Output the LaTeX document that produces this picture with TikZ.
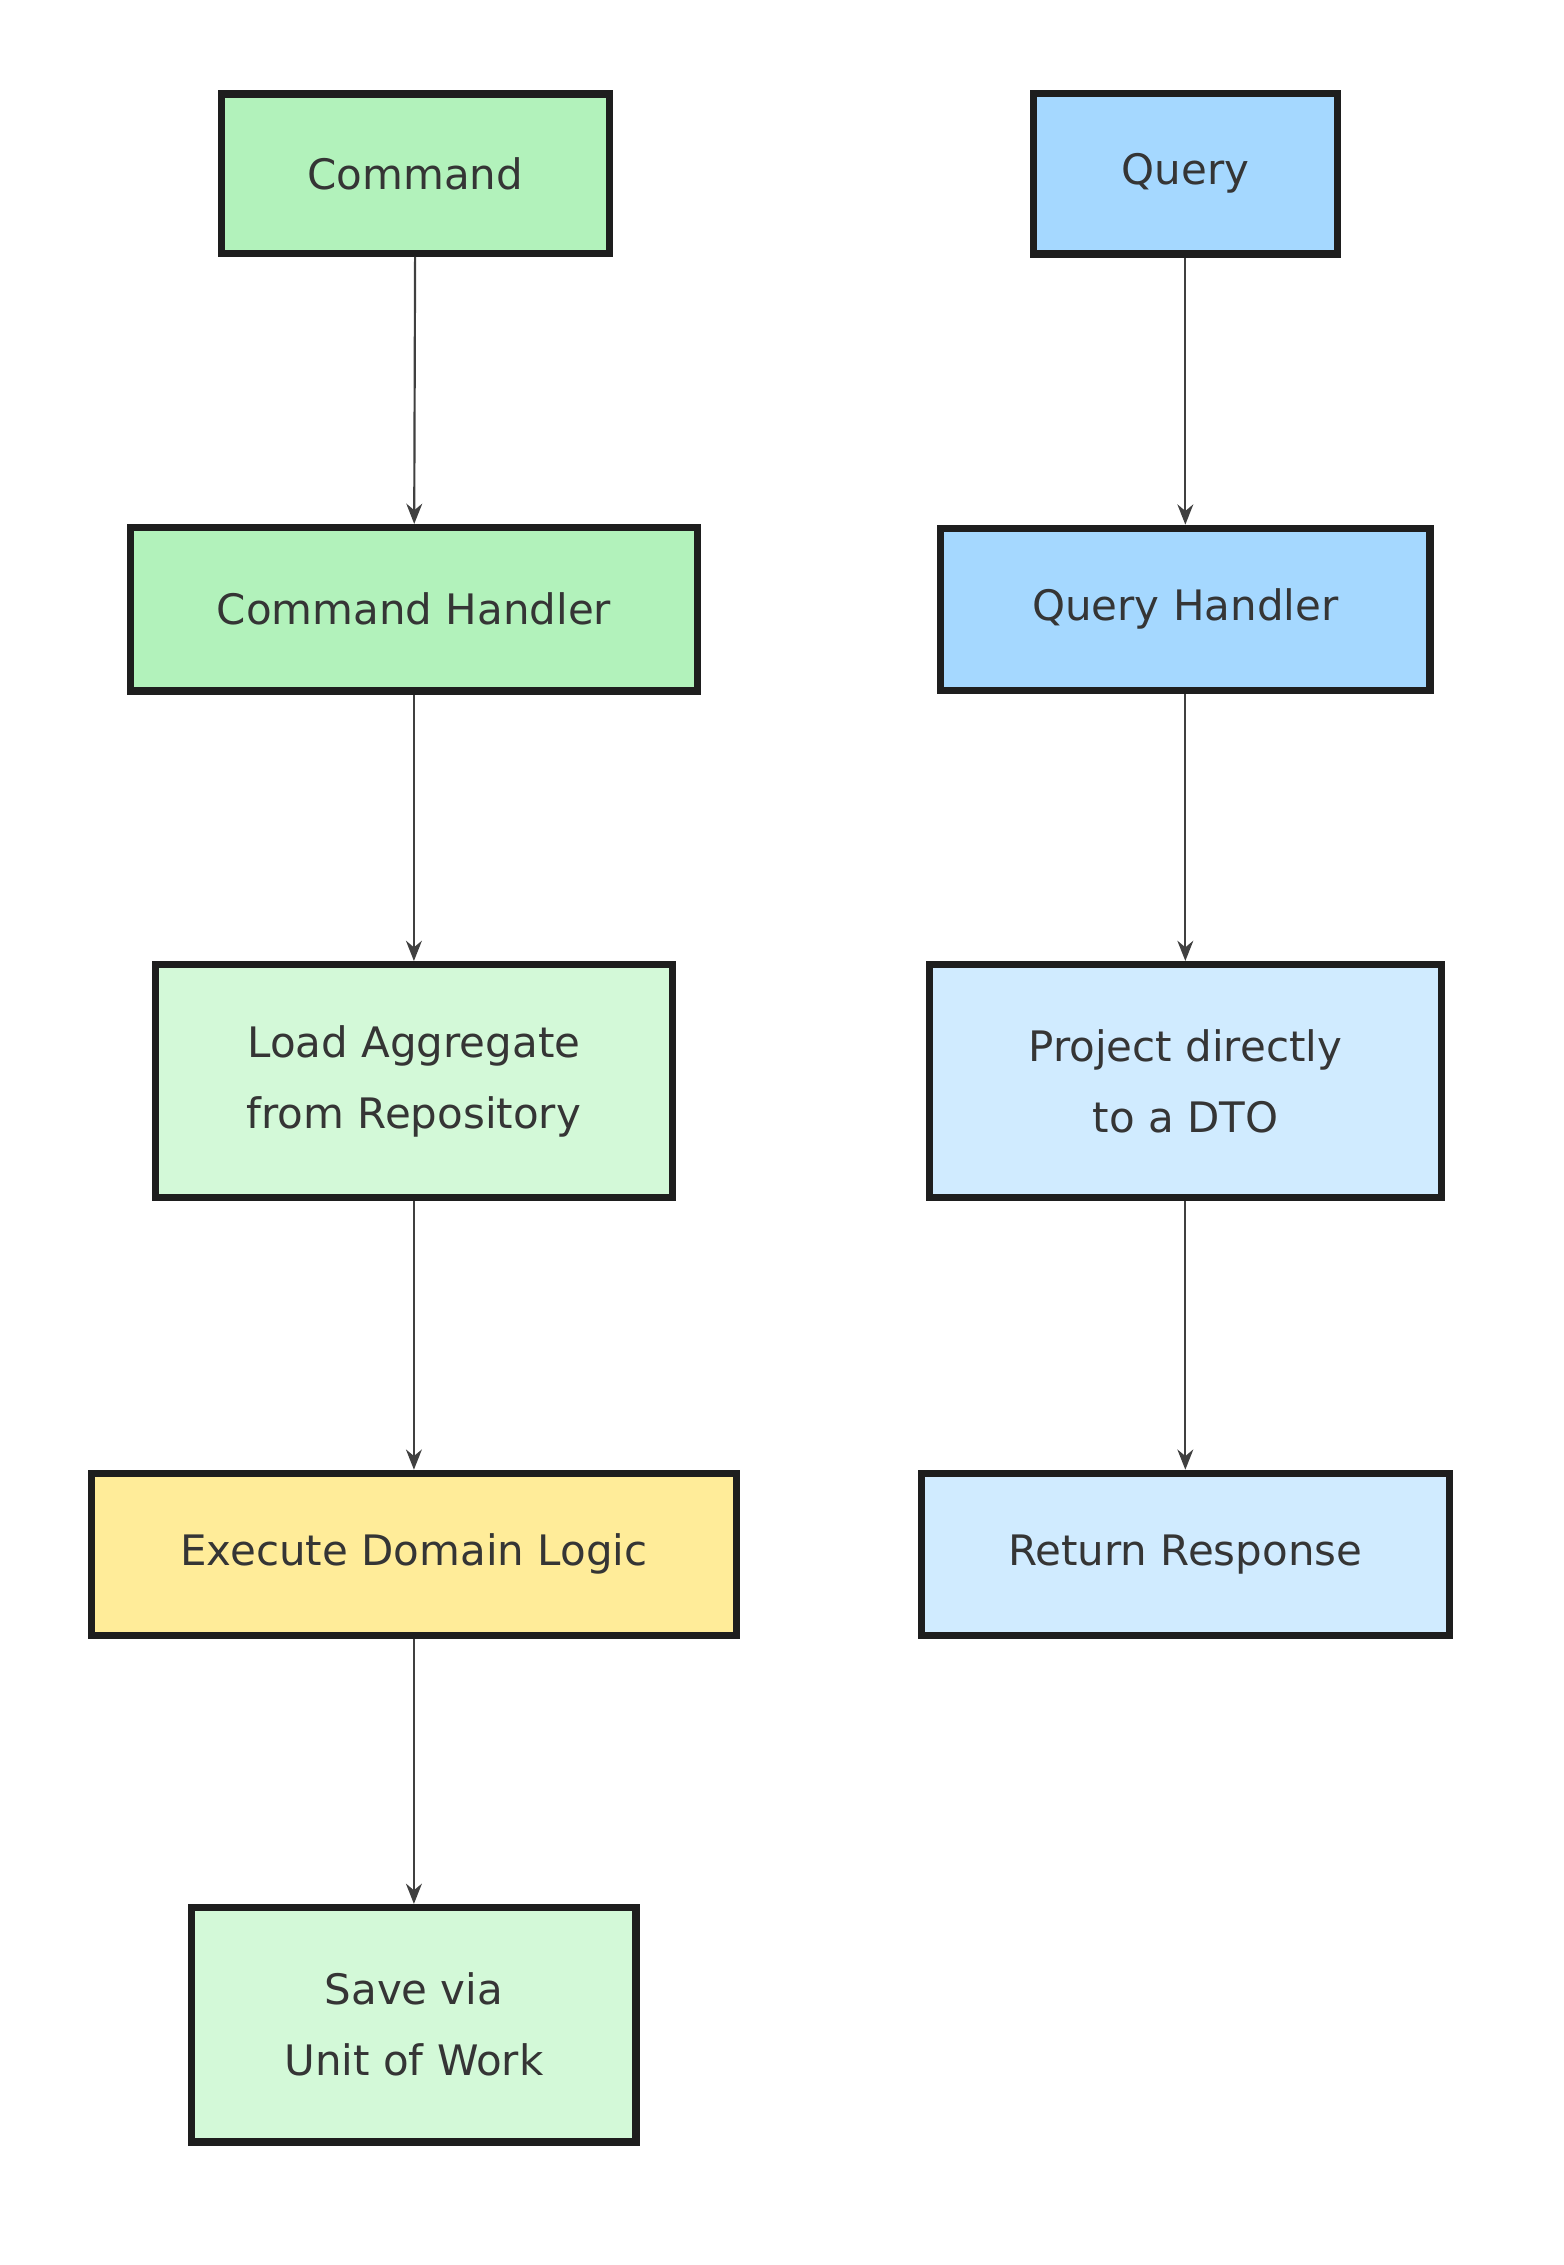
\documentclass[tikz,border=0pt]{standalone}
\usepackage{fontspec}
\setmainfont{DejaVu Sans}
\usetikzlibrary{arrows.meta}
\definecolor{gD}{HTML}{B2F2BB}
\definecolor{gL}{HTML}{D3F9D8}
\definecolor{bD}{HTML}{A5D8FF}
\definecolor{bL}{HTML}{D0EBFF}
\definecolor{yD}{HTML}{FFEC99}
\definecolor{ink}{HTML}{1E1E1E}
\begin{document}
\begin{tikzpicture}[x=1pt,y=-1pt,
  box/.style={draw=ink,line width=5pt,align=center,text=ink!90,font=\fontsize{29}{49}\selectfont,inner sep=0pt},
  arr/.style={draw=ink!85,line width=1.5pt,-{Stealth[length=14pt,width=11pt]}}]
\useasboundingbox (0,0) rectangle (1080,1565);
\node[box,fill=gD,minimum width=268,minimum height=110] (c1) at (287,120) {Command};
\node[box,fill=gD,minimum width=392,minimum height=113] (c2) at (286,421) {Command Handler};
\node[box,fill=gL,minimum width=357,minimum height=161] (c3) at (286,747) {Load Aggregate\\from Repository};
\node[box,fill=yD,minimum width=446,minimum height=112] (c4) at (286,1074) {Execute Domain Logic};
\node[box,fill=gL,minimum width=307,minimum height=162] (c5) at (286,1399) {Save via\\Unit of Work};
\node[box,fill=bD,minimum width=210,minimum height=111] (q1) at (819,120) {Query};
\node[box,fill=bD,minimum width=338,minimum height=112] (q2) at (819,421) {Query Handler};
\node[box,fill=bL,minimum width=354,minimum height=161] (q3) at (819,747) {Project directly\\to a DTO};
\node[box,fill=bL,minimum width=365,minimum height=112] (q4) at (819,1074) {Return Response};
\draw[arr] (c1) -- (c2);
\draw[arr] (c2) -- (c3);
\draw[arr] (c3) -- (c4);
\draw[arr] (c4) -- (c5);
\draw[arr] (q1) -- (q2);
\draw[arr] (q2) -- (q3);
\draw[arr] (q3) -- (q4);
\end{tikzpicture}
\end{document}
